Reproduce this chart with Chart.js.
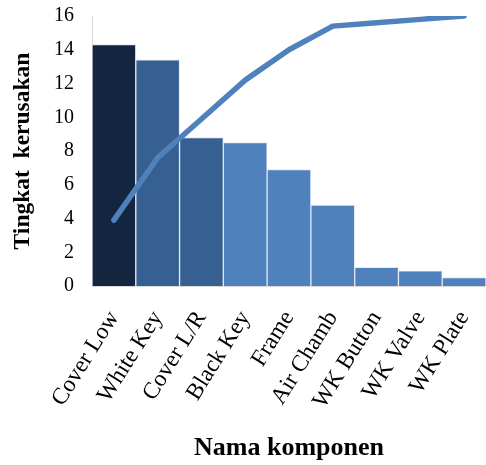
<!DOCTYPE html>
<html>
<head>
<meta charset="utf-8">
<script src="https://cdn.jsdelivr.net/npm/chart.js@4/dist/chart.umd.min.js"></script>
<style>
  html, body { margin: 0; padding: 0; background: #fff; }
  #wrap { width: 486px; height: 465px; }
</style>
</head>
<body>
<div id="wrap"><canvas id="paretoChart"></canvas></div>
<script>
// Data
const komponen = ['Cover Low', 'White Key', 'Cover L/R', 'Black Key', 'Frame', 'Air Chamb', 'WK Button', 'WK Valve', 'WK Plate'];
const kerusakan = [14.3, 13.4, 8.8, 8.5, 6.9, 4.8, 1.1, 0.9, 0.5];
const kumulatif = [3.9, 7.6, 9.9, 12.2, 14.0, 15.4, 15.6, 15.8, 16.0];
const yTicks = [0, 2, 4, 6, 8, 10, 12, 14, 16];

const barColors = ['#14253f', '#376092', '#376092', '#4f81bd', '#4f81bd', '#4f81bd', '#4f81bd', '#4f81bd', '#4f81bd'];
const serif = "'Liberation Serif', 'Times New Roman', serif";

document.addEventListener('DOMContentLoaded', function () {
    const ctx = document.getElementById('paretoChart').getContext('2d');

    new Chart(ctx, {
        data: {
            labels: komponen,
            datasets: [{
                type: 'line',
                data: kumulatif,
                borderColor: '#4f81bd',
                borderWidth: 5.5,
                pointRadius: 0,
                tension: 0,
                borderCapStyle: 'round',
                borderJoinStyle: 'round',
                order: 0
            }, {
                type: 'bar',
                data: kerusakan,
                backgroundColor: barColors,
                borderColor: 'rgba(220, 228, 240, 0.8)',
                borderWidth: 1,
                barPercentage: 1,
                categoryPercentage: 1,
                order: 1
            }]
        },
        options: {
            responsive: true,
            maintainAspectRatio: false,
            animation: false,
            layout: { padding: { top: 16, right: -2, left: 8, bottom: 0 } },
            plugins: {
                legend: { display: false },
                tooltip: { enabled: false }
            },
            scales: {
                x: {
                    grid: { display: false, drawTicks: false },
                    border: { color: '#d9d9d9', width: 1 },
                    afterFit: function (scale) {
                        // keep the plot area where the reference has it
                        scale.height = 179;
                        scale.paddingLeft = 0;
                        scale.paddingRight = 0;
                    },
                    ticks: {
                        color: '#000',
                        font: { family: serif, size: 23.5 },
                        minRotation: 58,
                        maxRotation: 58,
                        padding: 20
                    },
                    title: {
                        display: true,
                        text: 'Nama komponen',
                        color: '#000',
                        font: { family: serif, size: 26, weight: 'bold' },
                        padding: { top: 0, bottom: 1 }
                    }
                },
                y: {
                    min: 0,
                    max: 16,
                    afterBuildTicks: function (axis) {
                        axis.ticks = yTicks.map(v => ({ value: v }));
                    },
                    afterFit: function (scale) {
                        scale.width = 84;
                        scale.paddingTop = 0;
                        scale.paddingBottom = 0;
                    },
                    grid: { display: false, drawTicks: false },
                    border: { color: '#d9d9d9', width: 1 },
                    ticks: {
                        color: '#000',
                        font: { family: serif, size: 20 },
                        padding: 18
                    },
                    title: {
                        display: true,
                        text: 'Tingkat  kerusakan',
                        color: '#000',
                        font: { family: serif, size: 23.5, weight: 'bold' },
                        padding: { top: 1, bottom: 0 }
                    }
                }
            }
        }
    });
});
</script>
</body>
</html>
